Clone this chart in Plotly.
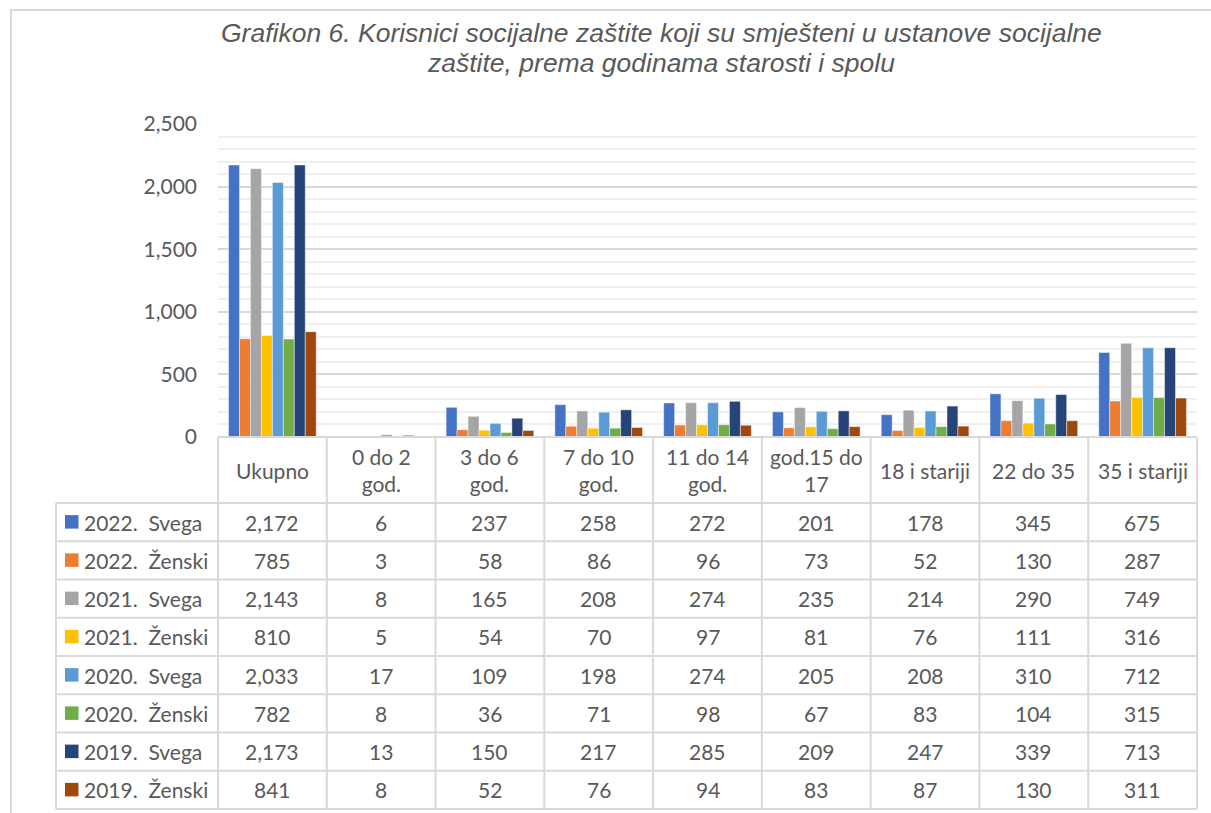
import plotly.graph_objects as go

W, H = 1211, 813

categories = ["Ukupno", "0 do 2 god.", "3 do 6 god.", "7 do 10 god.", "11 do 14 god.",
              "god.15 do 17", "18 i stariji", "22 do 35", "35 i stariji"]
header_labels = ["Ukupno", "0 do 2<br>god.", "3 do 6<br>god.", "7 do 10<br>god.", "11 do 14<br>god.",
                 "god.15 do<br>17", "18 i stariji", "22 do 35", "35 i stariji"]

series_names = ["2022.\u00a0 Svega", "2022.\u00a0 Ženski", "2021.\u00a0 Svega", "2021.\u00a0 Ženski",
                "2020.\u00a0 Svega", "2020.\u00a0 Ženski", "2019.\u00a0 Svega", "2019.\u00a0 Ženski"]

s2022 = [2172, 6, 237, 258, 272, 201, 178, 345, 675]
z2022 = [785, 3, 58, 86, 96, 73, 52, 130, 287]
s2021 = [2143, 8, 165, 208, 274, 235, 214, 290, 749]
z2021 = [810, 5, 54, 70, 97, 81, 76, 111, 316]
s2020 = [2033, 17, 109, 198, 274, 205, 208, 310, 712]
z2020 = [782, 8, 36, 71, 98, 67, 83, 104, 315]
s2019 = [2173, 13, 150, 217, 285, 209, 247, 339, 713]
z2019 = [841, 8, 52, 76, 94, 83, 87, 130, 311]

series_values = [s2022, z2022, s2021, z2021, s2020, z2020, s2019, z2019]
colors = ["#4472C4", "#ED7D31", "#A5A5A5", "#FFC000", "#5B9BD5", "#70AD47", "#264478", "#9E480E"]

title_lines = ["Grafikon 6. Korisnici socijalne zaštite koji su smješteni u ustanove socijalne",
               "zaštite, prema godinama starosti i spolu"]

FONT = "Lato"
TXT = "#595959"
GRID = "#D9D9D9"

# layout in pixels
PL, PR, PT, PB = 218, 1197, 124, 437
LEG_L = 56
HEAD_B = 503
ROW_H = (809 - HEAD_B) / 8
COL_W = (PR - PL) / 9


def px(x):
    return x / W


def py(y):
    return 1 - y / H


fig = go.Figure()
for name, vals, c in zip(series_names, series_values, colors):
    fig.add_trace(go.Bar(x=categories, y=vals, name=name, marker_color=c,
                         marker_line=dict(color="rgba(255,255,255,0.45)", width=1),
                         hoverinfo="skip"))

shapes = []
annotations = []

# outer chart border
shapes.append(dict(type="line", xref="paper", yref="paper", x0=px(10), x1=px(1211), y0=py(10), y1=py(10),
                   line=dict(color=GRID, width=2)))
shapes.append(dict(type="line", xref="paper", yref="paper", x0=px(11), x1=px(11), y0=py(10), y1=py(813),
                   line=dict(color=GRID, width=2)))

# table horizontal lines
shapes.append(dict(type="line", xref="paper", yref="paper", x0=px(PL), x1=px(PR), y0=py(PB), y1=py(PB),
                   line=dict(color=GRID, width=2)))
for i in range(9):
    y = HEAD_B + i * ROW_H
    shapes.append(dict(type="line", xref="paper", yref="paper", x0=px(LEG_L), x1=px(PR), y0=py(y), y1=py(y),
                       line=dict(color=GRID, width=2)))
# vertical lines
shapes.append(dict(type="line", xref="paper", yref="paper", x0=px(LEG_L), x1=px(LEG_L), y0=py(HEAD_B), y1=py(809),
                   line=dict(color=GRID, width=2)))
for j in range(10):
    x = PL + j * COL_W
    shapes.append(dict(type="line", xref="paper", yref="paper", x0=px(x), x1=px(x), y0=py(PB), y1=py(809),
                       line=dict(color=GRID, width=2)))

# header labels
for j, lab in enumerate(header_labels):
    annotations.append(dict(xref="paper", yref="paper", x=px(PL + (j + 0.5) * COL_W), y=py((PB + HEAD_B) / 2),
                            text=lab, showarrow=False, xanchor="center", yanchor="middle",
                            font=dict(family=FONT, size=21, color=TXT)))

# rows
for i, (name, vals, c) in enumerate(zip(series_names, series_values, colors)):
    yc = HEAD_B + (i + 0.5) * ROW_H
    shapes.append(dict(type="rect", xref="paper", yref="paper", x0=px(65), x1=px(78.5), y0=py(yc - 7), y1=py(yc + 6.5),
                       fillcolor=c, line=dict(width=0)))
    annotations.append(dict(xref="paper", yref="paper", x=px(82), y=py(yc), text=name, showarrow=False,
                            xanchor="left", yanchor="middle", font=dict(family=FONT, size=21, color=TXT)))
    for j, v in enumerate(vals):
        annotations.append(dict(xref="paper", yref="paper", x=px(PL + (j + 0.5) * COL_W), y=py(yc),
                                text=f"{v:,}", showarrow=False, xanchor="center", yanchor="middle",
                                font=dict(family=FONT, size=21, color=TXT)))

# title (two lines, tight spacing)
for k, line in enumerate(title_lines):
    annotations.append(dict(xref="paper", yref="paper", x=px(661), y=py(33 + 30 * k), text=line, showarrow=False,
                            xanchor="center", yanchor="middle", align="center",
                            font=dict(family="Liberation Sans, Arial", size=26.5, color=TXT, style="italic")))

fig.update_layout(
    width=W, height=H,
    margin=dict(l=0, r=0, t=0, b=0, pad=0, autoexpand=False),
    paper_bgcolor="white", plot_bgcolor="white",
    barmode="group", bargap=0.194, bargroupgap=0,
    showlegend=False,
    shapes=shapes, annotations=annotations,
    xaxis=dict(domain=[px(PL), px(PR)], range=[-0.5, 8.5], showticklabels=False, showgrid=False,
               zeroline=False, showline=False, ticks="", automargin=False),
    yaxis=dict(domain=[py(PB), py(PT)], range=[0, 2500], dtick=500, tickformat=",",
               showgrid=True, gridcolor=GRID, gridwidth=2, zeroline=False, showline=False,
               ticks="", ticklabelstandoff=20, automargin=False,
               tickfont=dict(family=FONT, size=21, color=TXT),
               minor=dict(dtick=100, showgrid=True, gridcolor="#F0F0F0", gridwidth=2)),
)

fig.write_html("out.html", config={"displayModeBar": False},
               post_script="document.body.style.margin='0';document.body.style.overflow='hidden';")
